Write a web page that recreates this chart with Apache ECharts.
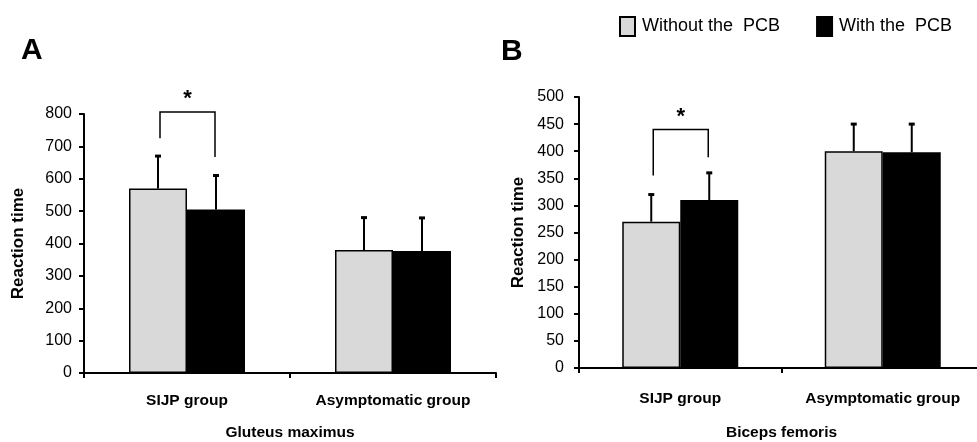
<!DOCTYPE html>
<html>
<head>
<meta charset="utf-8">
<script src="https://cdn.jsdelivr.net/npm/echarts@6/dist/echarts.min.js"></script>
<style>html,body{margin:0;padding:0;background:#fff;}#chart{width:977px;height:442px;}</style>
</head>
<body>
<div id="chart"></div>
<script>
// ---- data ----
const categories = ['SIJP group', 'Asymptomatic group'];
const seriesNames = ['Without the  PCB', 'With the  PCB'];
const gluteusWithout = [570, 380];
const gluteusWithoutSD = [100, 100];
const gluteusWith = [505, 377];
const gluteusWithSD = [105, 102];
const bicepsWithout = [270, 400];
const bicepsWithoutSD = [50, 50];
const bicepsWith = [310, 398];
const bicepsWithSD = [50, 52];
// significance bracket: [category index, top, left leg end, right leg end]
const gluteusBracket = [0, 806, 725, 667];
const bicepsBracket = [0, 440, 355, 389];
const gluteusTicks = [0, 800, 100];
const bicepsTicks = [0, 500, 50];
const panelTitles = ['Gluteus maximus', 'Biceps femoris'];
const panelLetters = ['A', 'B'];
const yName = 'Reaction time';

// ---- styling ----
const FONT = '"Liberation Sans", Arial, sans-serif';
const BAR_W = 58;
const LIGHT = '#d9d9d9';
const DARK = '#000000';

function errRender(params, api) {
  const cat = api.value(0), val = api.value(1), sd = api.value(2), side = api.value(3);
  const base = api.coord([cat, val]);
  const top = api.coord([cat, val + sd]);
  const x = base[0] + side * BAR_W / 2;
  return {
    type: 'group',
    children: [
      { type: 'line', shape: { x1: x, y1: base[1], x2: x, y2: top[1] }, style: { stroke: '#000', lineWidth: 2 } },
      { type: 'line', shape: { x1: x - 3, y1: top[1], x2: x + 3, y2: top[1] }, style: { stroke: '#000', lineWidth: 3 } }
    ]
  };
}

function bracketRender(params, api) {
  const cat = api.value(0);
  const t = api.coord([cat, api.value(1)]);
  const l = api.coord([cat, api.value(2)]);
  const r = api.coord([cat, api.value(3)]);
  const xl = t[0] - BAR_W / 2 + 2, xr = t[0] + BAR_W / 2 - 1;
  return {
    type: 'group',
    children: [
      { type: 'polyline', shape: { points: [[xl, l[1]], [xl, t[1]], [xr, t[1]], [xr, r[1]]] },
        style: { stroke: '#000', lineWidth: 1.5, fill: null } },
      { type: 'text', x: (xl + xr) / 2, y: t[1] - 2,
        style: { text: '*', font: 'bold 22px ' + FONT, fill: '#000', align: 'center', verticalAlign: 'bottom' } }
    ]
  };
}

function errData(vals, sds, side) {
  return vals.map((v, i) => [i, v, sds[i], side]);
}

const axisLabelStyle = { color: '#000', fontSize: 16, fontFamily: FONT };
const catLabelStyle = { color: '#000', fontSize: 15.5, fontWeight: 'bold', fontFamily: FONT };

function xAxis(gridIndex, name, margin, nameGap) {
  return {
    type: 'category', gridIndex, data: categories,
    name, nameLocation: 'middle', nameGap,
    nameTextStyle: { color: '#000', fontSize: 15.5, fontWeight: 'bold', fontFamily: FONT },
    axisLine: { lineStyle: { color: '#000', width: 2 } },
    axisTick: { show: true, length: 5, lineStyle: { color: '#000', width: 2 } },
    axisLabel: Object.assign({ margin, interval: 0, showMinLabel: true, showMaxLabel: true, hideOverlap: false }, catLabelStyle),
    splitLine: { show: false }
  };
}
function yAxis(gridIndex, ticks, nameGap, margin) {
  return {
    type: 'value', gridIndex, min: ticks[0], max: ticks[1], interval: ticks[2],
    name: yName, nameLocation: 'middle', nameGap, nameRotate: 90,
    nameTextStyle: { color: '#000', fontSize: 17, fontWeight: 'bold', fontFamily: FONT },
    axisLine: { show: true, lineStyle: { color: '#000', width: 2 } },
    axisTick: { show: true, length: 5, lineStyle: { color: '#000', width: 2 } },
    axisLabel: Object.assign({ margin }, axisLabelStyle),
    splitLine: { show: false }
  };
}
function bar(name, xi, data, color) {
  return {
    type: 'bar', name, xAxisIndex: xi, yAxisIndex: xi, data,
    barWidth: BAR_W, barGap: '0%',
    itemStyle: { color, borderColor: '#000', borderWidth: 1.5 },
    emphasis: { disabled: true }, animation: false
  };
}
function custom(xi, data, render, z) {
  return {
    type: 'custom', xAxisIndex: xi, yAxisIndex: xi, data, renderItem: render,
    clip: false, z, animation: false, silent: true
  };
}

const option = {
  animation: false,
  backgroundColor: '#fff',
  legend: {
    data: seriesNames,
    left: 614, top: 11,
    icon: 'rect', itemWidth: 15, itemHeight: 19, itemGap: 36,
    textStyle: { color: '#000', fontSize: 18, fontFamily: FONT, padding: [0, 0, 0, 2] },
    selectedMode: false
  },
  title: [
    { text: panelLetters[0], left: 16, top: 31, textStyle: { fontSize: 30, fontWeight: 'bold', fontFamily: FONT, color: '#000' } },
    { text: panelLetters[1], left: 496, top: 32, textStyle: { fontSize: 30, fontWeight: 'bold', fontFamily: FONT, color: '#000' } }
  ],
  grid: [
    { left: 84, width: 412, top: 114, height: 259, outerBoundsMode: 'none' },
    { left: 579, width: 405, top: 97, height: 271, outerBoundsMode: 'none' }
  ],
  xAxis: [xAxis(0, panelTitles[0], 20, 52), xAxis(1, panelTitles[1], 23, 57)],
  yAxis: [yAxis(0, gluteusTicks, 57, 12), yAxis(1, bicepsTicks, 52, 15)],
  series: [
    bar(seriesNames[0], 0, gluteusWithout, LIGHT),
    bar(seriesNames[1], 0, gluteusWith, DARK),
    bar(seriesNames[0], 1, bicepsWithout, LIGHT),
    bar(seriesNames[1], 1, bicepsWith, DARK),
    custom(0, errData(gluteusWithout, gluteusWithoutSD, -1).concat(errData(gluteusWith, gluteusWithSD, 1)), errRender, 5),
    custom(1, errData(bicepsWithout, bicepsWithoutSD, -1).concat(errData(bicepsWith, bicepsWithSD, 1)), errRender, 5),
    custom(0, [gluteusBracket], bracketRender, 6),
    custom(1, [bicepsBracket], bracketRender, 6)
  ]
};

const chart = echarts.init(document.getElementById('chart'), null, { renderer: 'canvas' });
chart.setOption(option);
</script>
</body>
</html>
